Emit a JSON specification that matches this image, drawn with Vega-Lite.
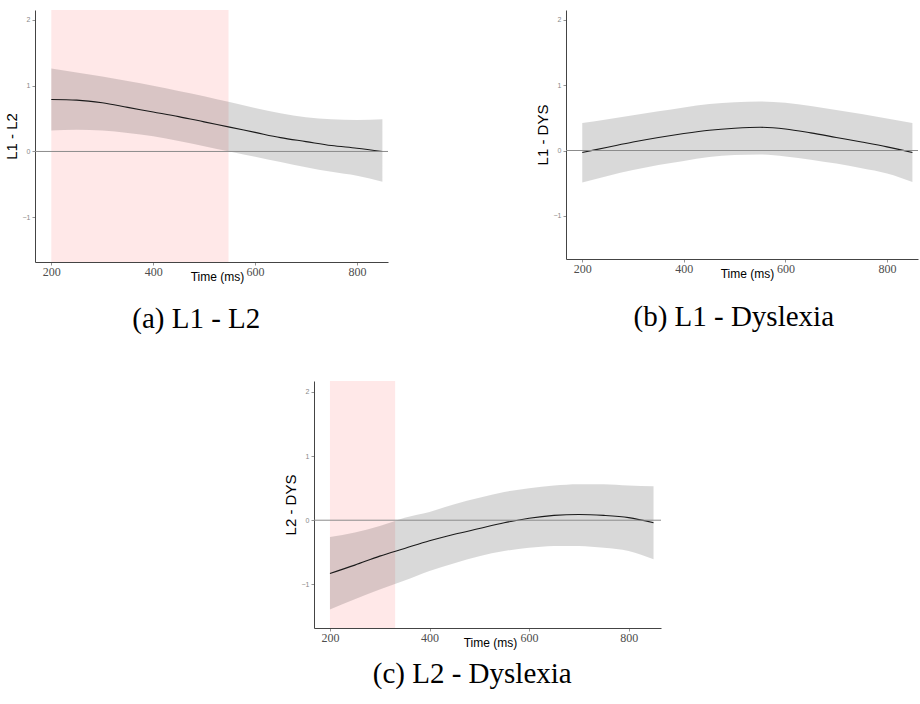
{
  "$schema": "https://vega.github.io/schema/vega-lite/v6.json",
  "background": "white",
  "padding": {"left": 4, "top": 10, "right": 0, "bottom": 0},
  "config": {
    "view": {"stroke": null},
    "axis": {
      "grid": false,
      "domainColor": "#444444",
      "domainWidth": 1,
      "tickColor": "#777777",
      "tickSize": 3,
      "tickWidth": 0.8,
      "titleFont": "Liberation Sans",
      "titleFontWeight": "normal",
      "titleColor": "#000000"
    },
    "axisX": {
      "labelFont": "Liberation Serif",
      "labelFontSize": 12,
      "labelColor": "#4d4d4d",
      "labelPadding": 1,
      "titleFontSize": 12,
      "titleBaseline": "top",
      "titleY": 9
    },
    "axisY": {
      "labelFont": "Liberation Sans",
      "labelFontSize": 7,
      "labelColor": "#888888",
      "labelPadding": 2,
      "format": "d",
      "titleFontSize": 15,
      "titlePadding": 3
    },
    "title": {"font": "Liberation Serif", "fontSize": 29, "fontWeight": "normal", "color": "#000000", "orient": "bottom", "baseline": "top", "anchor": "middle", "frame": "bounds"}
  },
  "datasets": {
    "a": [
      {"t": 200, "fit": 0.79, "lo": 0.32, "hi": 1.26},
      {"t": 250, "fit": 0.78, "lo": 0.33, "hi": 1.20},
      {"t": 300, "fit": 0.74, "lo": 0.32, "hi": 1.14},
      {"t": 350, "fit": 0.67, "lo": 0.28, "hi": 1.07},
      {"t": 400, "fit": 0.60, "lo": 0.23, "hi": 1.00},
      {"t": 450, "fit": 0.53, "lo": 0.16, "hi": 0.92},
      {"t": 500, "fit": 0.45, "lo": 0.08, "hi": 0.84},
      {"t": 550, "fit": 0.37, "lo": 0.00, "hi": 0.75},
      {"t": 600, "fit": 0.29, "lo": -0.08, "hi": 0.66},
      {"t": 650, "fit": 0.21, "lo": -0.16, "hi": 0.58},
      {"t": 700, "fit": 0.15, "lo": -0.24, "hi": 0.52},
      {"t": 750, "fit": 0.09, "lo": -0.31, "hi": 0.49},
      {"t": 800, "fit": 0.05, "lo": -0.37, "hi": 0.48},
      {"t": 850, "fit": 0.00, "lo": -0.46, "hi": 0.49}
    ],
    "b": [
      {"t": 200, "fit": -0.03, "lo": -0.49, "hi": 0.42},
      {"t": 250, "fit": 0.05, "lo": -0.39, "hi": 0.48},
      {"t": 300, "fit": 0.13, "lo": -0.30, "hi": 0.54},
      {"t": 350, "fit": 0.20, "lo": -0.22, "hi": 0.60},
      {"t": 400, "fit": 0.26, "lo": -0.16, "hi": 0.66},
      {"t": 450, "fit": 0.31, "lo": -0.10, "hi": 0.71},
      {"t": 500, "fit": 0.34, "lo": -0.07, "hi": 0.74},
      {"t": 550, "fit": 0.355, "lo": -0.06, "hi": 0.75},
      {"t": 600, "fit": 0.33, "lo": -0.09, "hi": 0.73},
      {"t": 650, "fit": 0.27, "lo": -0.14, "hi": 0.68},
      {"t": 700, "fit": 0.20, "lo": -0.20, "hi": 0.62},
      {"t": 750, "fit": 0.13, "lo": -0.27, "hi": 0.56},
      {"t": 800, "fit": 0.056, "lo": -0.35, "hi": 0.49},
      {"t": 850, "fit": -0.03, "lo": -0.48, "hi": 0.42}
    ],
    "c": [
      {"t": 200, "fit": -0.83, "lo": -1.39, "hi": -0.26},
      {"t": 250, "fit": -0.70, "lo": -1.23, "hi": -0.19},
      {"t": 300, "fit": -0.56, "lo": -1.08, "hi": -0.09},
      {"t": 350, "fit": -0.44, "lo": -0.94, "hi": 0.04},
      {"t": 400, "fit": -0.32, "lo": -0.79, "hi": 0.13},
      {"t": 450, "fit": -0.22, "lo": -0.67, "hi": 0.25},
      {"t": 500, "fit": -0.13, "lo": -0.56, "hi": 0.35},
      {"t": 550, "fit": -0.04, "lo": -0.48, "hi": 0.44},
      {"t": 600, "fit": 0.03, "lo": -0.43, "hi": 0.50},
      {"t": 650, "fit": 0.075, "lo": -0.40, "hi": 0.54},
      {"t": 700, "fit": 0.09, "lo": -0.40, "hi": 0.56},
      {"t": 750, "fit": 0.075, "lo": -0.43, "hi": 0.56},
      {"t": 800, "fit": 0.04, "lo": -0.48, "hi": 0.54},
      {"t": 850, "fit": -0.04, "lo": -0.61, "hi": 0.53}
    ],
    "sigA": [{"start": 200, "end": 548}],
    "sigC": [{"start": 200, "end": 331}],
    "zero": [{"y": 0}]
  },
  "spacing": 47,
  "vconcat": [
    {
      "spacing": 146,
      "hconcat": [
        {
          "width": 353,
          "height": 252,
          "title": {"text": "(a) L1 - L2", "offset": 23},
          "layer": [
            {
              "data": {"name": "sigA"},
              "mark": {"type": "rect", "color": "#ff0000", "opacity": 0.09},
              "encoding": {
                "x": {"field": "start", "type": "quantitative", "scale": {"domain": [168, 861], "nice": false, "zero": false}, "axis": {"values": [200, 400, 600, 800], "title": "Time (ms)", "titleX": 182}},
                "x2": {"field": "end"}
              }
            },
            {
              "data": {"name": "a"},
              "mark": {"type": "area", "color": "#000000", "opacity": 0.15, "interpolate": "monotone"},
              "encoding": {
                "x": {"field": "t", "type": "quantitative"},
                "y": {"field": "lo", "type": "quantitative", "scale": {"domain": [-1.68, 2.15], "nice": false, "zero": false}, "axis": {"values": [-1, 0, 1, 2], "title": "L1 - L2"}},
                "y2": {"field": "hi"}
              }
            },
            {
              "data": {"name": "a"},
              "mark": {"type": "line", "color": "#1a1a1a", "strokeWidth": 1.1, "interpolate": "monotone"},
              "encoding": {
                "x": {"field": "t", "type": "quantitative"},
                "y": {"field": "fit", "type": "quantitative"}
              }
            },
            {
              "data": {"name": "zero"},
              "mark": {"type": "rule", "color": "#8c8c8c", "strokeWidth": 1},
              "encoding": {"y": {"field": "y", "type": "quantitative"}}
            }
          ]
        },
        {
          "width": 352,
          "height": 249,
          "title": {"text": "(b) L1 - Dyslexia", "offset": 24, "dx": 7},
          "layer": [
            {
              "data": {"name": "b"},
              "mark": {"type": "area", "color": "#000000", "opacity": 0.15, "interpolate": "monotone"},
              "encoding": {
                "x": {"field": "t", "type": "quantitative", "scale": {"domain": [168, 861], "nice": false, "zero": false}, "axis": {"values": [200, 400, 600, 800], "title": "Time (ms)", "titleX": 181}},
                "y": {"field": "lo", "type": "quantitative", "scale": {"domain": [-1.66, 2.15], "nice": false, "zero": false}, "axis": {"values": [-1, 0, 1, 2], "title": "L1 - DYS"}},
                "y2": {"field": "hi"}
              }
            },
            {
              "data": {"name": "b"},
              "mark": {"type": "line", "color": "#1a1a1a", "strokeWidth": 1.1, "interpolate": "monotone"},
              "encoding": {
                "x": {"field": "t", "type": "quantitative"},
                "y": {"field": "fit", "type": "quantitative"}
              }
            },
            {
              "data": {"name": "zero"},
              "mark": {"type": "rule", "color": "#8c8c8c", "strokeWidth": 1},
              "encoding": {"y": {"field": "y", "type": "quantitative"}}
            }
          ]
        }
      ]
    },
    {
      "spacing": 0,
      "hconcat": [
        {
          "width": 248,
          "height": 10,
          "data": {"values": []},
          "mark": {"type": "point", "opacity": 0},
          "encoding": {}
        },
        {
          "width": 347,
          "height": 247,
          "title": {"text": "(c) L2 - Dyslexia", "offset": 12},
          "layer": [
            {
              "data": {"name": "sigC"},
              "mark": {"type": "rect", "color": "#ff0000", "opacity": 0.09},
              "encoding": {
                "x": {"field": "start", "type": "quantitative", "scale": {"domain": [168, 865], "nice": false, "zero": false}, "axis": {"values": [200, 400, 600, 800], "title": "Time (ms)", "titleX": 176}},
                "x2": {"field": "end"}
              }
            },
            {
              "data": {"name": "c"},
              "mark": {"type": "area", "color": "#000000", "opacity": 0.15, "interpolate": "monotone"},
              "encoding": {
                "x": {"field": "t", "type": "quantitative"},
                "y": {"field": "lo", "type": "quantitative", "scale": {"domain": [-1.68, 2.17], "nice": false, "zero": false}, "axis": {"values": [-1, 0, 1, 2], "title": "L2 - DYS"}},
                "y2": {"field": "hi"}
              }
            },
            {
              "data": {"name": "c"},
              "mark": {"type": "line", "color": "#1a1a1a", "strokeWidth": 1.1, "interpolate": "monotone"},
              "encoding": {
                "x": {"field": "t", "type": "quantitative"},
                "y": {"field": "fit", "type": "quantitative"}
              }
            },
            {
              "data": {"name": "zero"},
              "mark": {"type": "rule", "color": "#8c8c8c", "strokeWidth": 1},
              "encoding": {"y": {"field": "y", "type": "quantitative"}}
            }
          ]
        }
      ]
    }
  ]
}
